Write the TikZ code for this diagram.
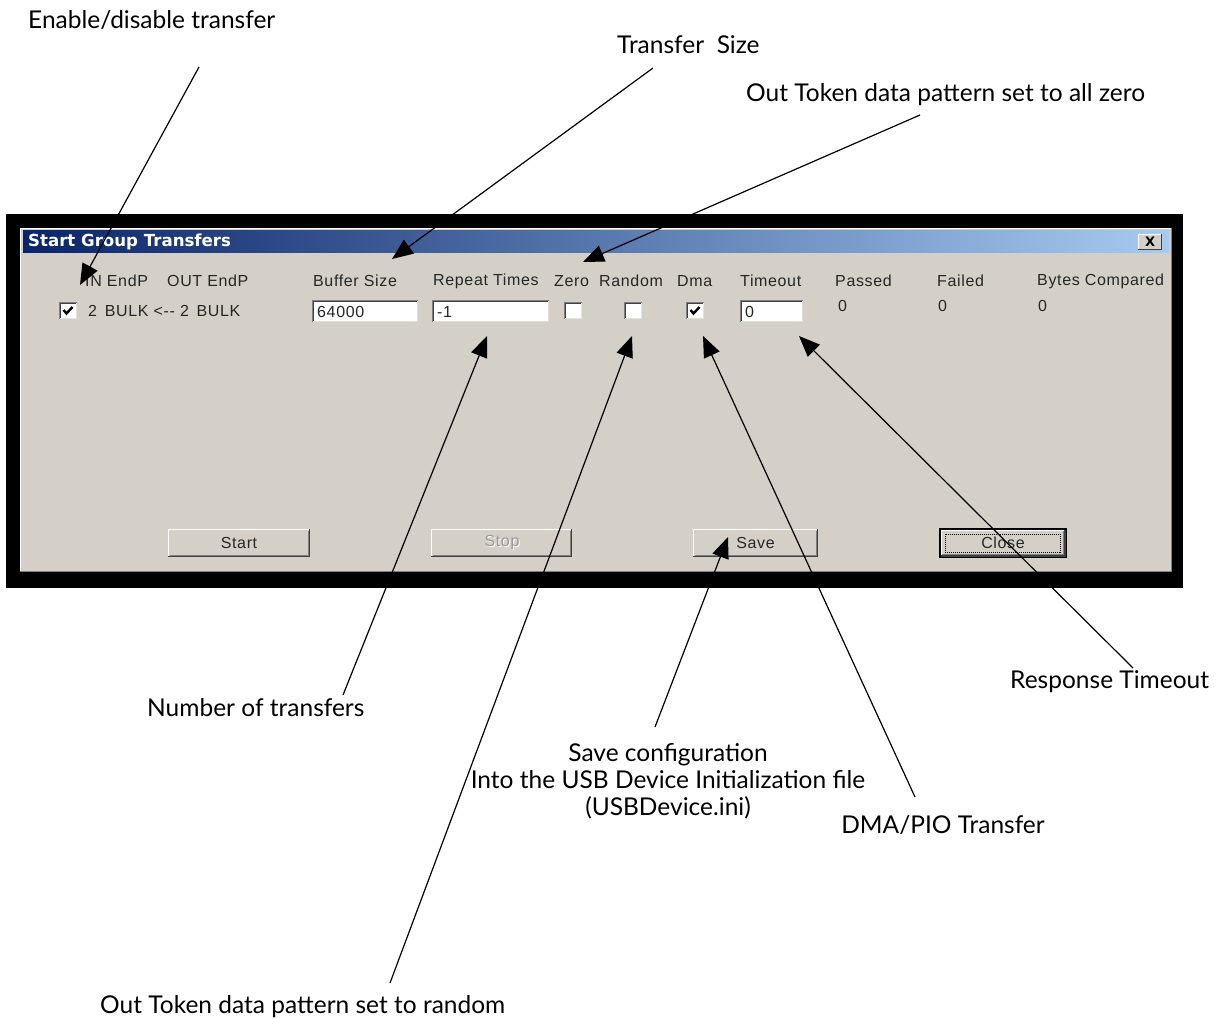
\documentclass[tikz,border=0pt]{standalone}
\usepackage{fontspec}
\usepackage{graphicx}
\setmainfont{Lato}
\newfontfamily\dlgfont[LetterSpace=4]{Liberation Sans}
\newfontfamily\ttlfont{DejaVu Sans}
\usetikzlibrary{arrows.meta}
\definecolor{dlg}{HTML}{D4D0C8}
\definecolor{ttldark}{HTML}{0A246A}
\definecolor{ttllight}{HTML}{A6CAF0}
\definecolor{dlgtxt}{HTML}{262626}
\definecolor{btnshadow}{HTML}{808080}
\definecolor{btndark}{HTML}{404040}
\newcommand\wbtn[6]{%
  \fill[dlg] (#2,#3) rectangle (#4,#5);
  \draw[white,line width=1.2pt] (#2+.6,#5-1) -- (#2+.6,#3+.6) -- (#4-1,#3+.6);
  \draw[btndark,line width=1.2pt] (#2,#5-.6) -- (#4-.6,#5-.6) -- (#4-.6,#3);
  \draw[btnshadow,line width=1.2pt] (#2+1.5,#5-1.8) -- (#4-1.8,#5-1.8) -- (#4-1.8,#3+1.5);
  \node[dtxt,anchor=center] (#1) at ({(#2+#4)/2},{(#3+#5)/2}) {#6};}
\newcommand\wfield[6]{%
  \fill[white] (#2,#3) rectangle (#4,#5);
  \draw[btnshadow,line width=1.2pt] (#2+.6,#5) -- (#2+.6,#3+.6) -- (#4,#3+.6);
  \draw[btndark,line width=1.2pt] (#2+1.8,#5-1.2) -- (#2+1.8,#3+1.8) -- (#4-1.2,#3+1.8);
  \draw[dlg!70!white,line width=1.2pt] (#2+1.8,#5-.6) -- (#4-.6,#5-.6) -- (#4-.6,#3+1.8);
  \node[dtxt] (#1) at (#2+5,{(#3+#5)/2+1}) {#6};}
\newcommand\wchk[3]{%
  \fill[white] (#2,#3) rectangle ++(18,17);
  \draw[btnshadow,line width=1.2pt] (#2+.6,#3+17) -- (#2+.6,#3+.6) -- (#2+18,#3+.6);
  \draw[btndark,line width=1.2pt] (#2+1.8,#3+16) -- (#2+1.8,#3+1.8) -- (#2+17,#3+1.8);
  \draw[dlg!60!white,line width=1.2pt] (#2+1.8,#3+16.4) -- (#2+17.4,#3+16.4) -- (#2+17.4,#3+1.8);
  \coordinate (#1) at (#2+9,#3+8.5);}
\newcommand\wtick[2]{%
  \draw[black,line width=2.4pt,line join=miter] (#1+4.5,#2+8) -- (#1+7.5,#2+11.5) -- (#1+13.5,#2+5);}
\begin{document}
\begin{tikzpicture}[x=1pt,y=-1pt,
  lbl/.style={font=\fontsize{24.5}{29}\selectfont, inner sep=0pt, text=black},
  dtxt/.style={font=\dlgfont\fontsize{16}{19}\selectfont, inner sep=0pt, text=dlgtxt, anchor=west},
  callout/.style={line width=1.2pt, -{Triangle[length=21pt,width=17pt]}},
]
\fill[white] (0,0) rectangle (1218,1019);
\useasboundingbox (0,0) rectangle (1218,1019);
% window frame
\fill[black] (6,214) rectangle (1183,588);
\fill[dlg] (20,228) rectangle (1172,572);
\draw[white,line width=1pt] (20.5,572) -- (20.5,228.5) -- (1172,228.5);
\draw[btnshadow,line width=1.2pt] (1171.4,228) -- (1171.4,571.4) -- (20,571.4);
% title bar
\shade[left color=ttldark,right color=ttllight] (23,231) rectangle (1169,252);
\node[font=\ttlfont\bfseries\fontsize{16.6}{19}\selectfont, text=white, inner sep=0pt, anchor=west] (title) at (28,242) {Start Group Transfers};
\fill[dlg] (1138,234) rectangle (1162,250);
\draw[white,line width=1pt] (1138.5,250) -- (1138.5,234.5) -- (1162,234.5);
\draw[btndark,line width=1pt] (1138,249.5) -- (1161.5,249.5) -- (1161.5,234);
\node[font=\ttlfont\bfseries\fontsize{13}{15}\selectfont, text=black, inner sep=0pt] (closex) at (1150,242) {X};
% header labels
\node[dtxt] (hIn) at (85,281) {IN EndP};
\node[dtxt] (hOut) at (167,281) {OUT EndP};
\node[dtxt] (hBuf) at (313,281) {Buffer Size};
\node[dtxt] (hRep) at (433,281) {Repeat Times};
\node[dtxt] (hZero) at (554,281) {Zero};
\node[dtxt] (hRand) at (599,281) {Random};
\node[dtxt] (hDma) at (677,281) {Dma};
\node[dtxt] (hTo) at (740,281) {Timeout};
\node[dtxt] (hPass) at (835,281) {Passed};
\node[dtxt] (hFail) at (937,281) {Failed};
\node[dtxt] (hBytes) at (1037,281) {Bytes Compared};
% row
\wchk{cbEn}{59}{302}
\wtick{59}{302}
\node[dtxt] (pipe) at (88,311) {2 \,BULK <-- 2 \,BULK};
\wfield{fBuf}{312}{300}{418}{322}{64000}
\wfield{fRep}{432}{300}{549}{322}{-1}
\wchk{cbZero}{564}{302}
\wchk{cbRand}{624}{302}
\wchk{cbDma}{686}{302}
\wtick{686}{302}
\wfield{fTo}{740}{300}{803}{322}{0}
\node[dtxt] (vPass) at (838,306) {0};
\node[dtxt] (vFail) at (938,306) {0};
\node[dtxt] (vBytes) at (1038,306) {0};
% buttons
\wbtn{bStart}{168}{529}{310}{557}{Start}
\wbtn{bStop}{431}{529}{572}{557}{}
\node[dtxt,anchor=center,text=white] at (503,544) {Stop};
\node[dtxt,anchor=center,text=black!40] (stoptxt) at (502,543) {Stop};
\wbtn{bSave}{693}{529}{818}{557}{Save}
\fill[black] (939,528) rectangle (1067,558);
\wbtn{bClose}{940.5}{529.5}{1065.5}{556.5}{Close}
\draw[black,line width=1pt,dash pattern=on 1pt off 1pt] (945,534) rectangle (1060,552);
% callout labels
\node[lbl,anchor=west] (tEn) at (28,20) {Enable/disable transfer};
\node[lbl,anchor=west] (tSize) at (617,45) {Transfer\ \ Size};
\node[lbl,anchor=west] (tZero) at (746,95) {Out Token data pattern set to all zero};
\node[lbl,anchor=west] (tNum) at (147,708) {Number of transfers};
\node[lbl,anchor=west] (tRand) at (100,1007) {Out Token data pattern set to random};
\node[lbl,align=center,anchor=north] (tSave) at (668,743) {Save configuration\\[-2pt]Into the USB Device Initialization file\\[-2pt](USBDevice.ini)};
\node[lbl] (tDma) at (943,825) {DMA/PIO Transfer};
\node[lbl,anchor=west] (tTo) at (1010,682) {Response Timeout};
% connector ends
\coordinate (sEn) at (199,67);   \coordinate (aEn) at (80,285);
\coordinate (sSize) at (653,68); \coordinate (aSize) at (392,259);
\coordinate (sZero) at (920,115); \coordinate (aZero) at (583,262);
\coordinate (sNum) at (343,695); \coordinate (aNum) at (487,336);
\coordinate (sRand) at (390,983); \coordinate (aRand) at (632,336);
\coordinate (sSave) at (655,727); \coordinate (aSave) at (728,537);
\coordinate (sDma) at (915,797); \coordinate (aDma) at (703,336);
\coordinate (sTo) at (1133,668); \coordinate (aTo) at (799,336);
\draw[callout] (sEn) -- (aEn);
\draw[callout] (sSize) -- (aSize);
\draw[callout] (sZero) -- (aZero);
\draw[callout] (sNum) -- (aNum);
\draw[callout] (sRand) -- (aRand);
\draw[callout] (sSave) -- (aSave);
\draw[callout] (sDma) -- (aDma);
\draw[callout] (sTo) -- (aTo);
\end{tikzpicture}
\end{document}
